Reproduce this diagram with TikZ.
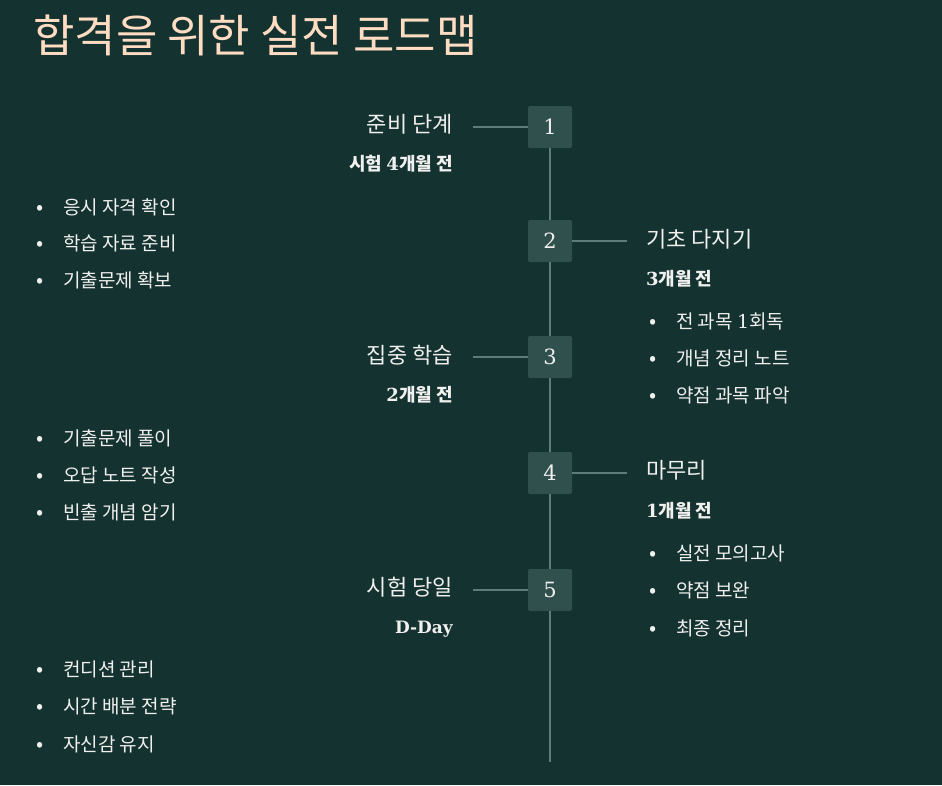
\documentclass[tikz,border=0pt]{standalone}
\usepackage{fontspec}
\setmainfont{DejaVu Serif}
\newfontfamily\kr{Noto Sans CJK KR}
\usetikzlibrary{positioning}
\definecolor{MapBg}{HTML}{143230}
\definecolor{MapBox}{HTML}{2F504D}
\definecolor{MapLine}{HTML}{5E7D7A}
\definecolor{MapPeach}{HTML}{FFDCC2}
\definecolor{MapText}{HTML}{F0F0EE}
\newcommand{\dg}[1]{{\rmfamily #1}}
\newcommand{\bul}[1]{\makebox[26pt]{\fontsize{21}{21}\selectfont •}\hspace{10pt}#1}

\begin{document}
\begin{tikzpicture}[x=1pt,y=-1pt,
    stepbox/.style={fill=MapBox,rounded corners=2pt,minimum width=44pt,minimum height=42pt,inner sep=0,text=MapText,font=\fontsize{21}{21}\selectfont},
    conn/.style={MapLine,line width=1.6pt},
    ttl/.style={inner sep=0,text=MapText,font=\kr\fontsize{22}{22}\selectfont},
    sub/.style={inner sep=0,text=MapText,font=\kr\bfseries\fontsize{18}{18}\selectfont},
    item/.style={inner sep=0,anchor=base west,text=MapText,font=\kr\fontsize{19}{19}\selectfont}
  ]
  \useasboundingbox[fill=MapBg] (0,0) rectangle (942,785);
  \node[inner sep=0,anchor=base west,text=MapPeach,font=\kr\fontsize{45}{45}\selectfont] (title) at (33,52) {합격을 위한 실전 로드맵};

  % timeline boxes
  \node[stepbox] (b1) at (550,127) {1};
  \node[stepbox] (b2) at (550,241) {2};
  \node[stepbox] (b3) at (550,357) {3};
  \node[stepbox] (b4) at (550,473) {4};
  \node[stepbox] (b5) at (550,590) {5};
  \coordinate (lineend) at (550,762);
  \draw[conn] (b1.south) -- (b2.north) (b2.south) -- (b3.north) (b3.south) -- (b4.north)
    (b4.south) -- (b5.north) (b5.south) -- (lineend);

  % step 1
  \node[ttl,anchor=base east] (t1) at (453,132) {준비 단계};
  \node[sub,anchor=base east] (s1) at (453,170) {시험 \dg{4}개월 전};
  \draw[conn] (b1.west) -- ++(-55,0);
  \node[item] (i11) at (27,214) {\bul{응시 자격 확인}};
  \node[item] (i12) at (27,250) {\bul{학습 자료 준비}};
  \node[item] (i13) at (27,287) {\bul{기출문제 확보}};

  % step 2
  \node[ttl,anchor=base west] (t2) at (646,247) {기초 다지기};
  \node[sub,anchor=base west] (s2) at (646,285) {\dg{3}개월 전};
  \draw[conn] (b2.east) -- ++(55,0);
  \node[item] (i21) at (640,328) {\bul{전 과목 \dg{1}회독}};
  \node[item] (i22) at (640,365) {\bul{개념 정리 노트}};
  \node[item] (i23) at (640,402) {\bul{약점 과목 파악}};

  % step 3
  \node[ttl,anchor=base east] (t3) at (453,363) {집중 학습};
  \node[sub,anchor=base east] (s3) at (453,401) {\dg{2}개월 전};
  \draw[conn] (b3.west) -- ++(-55,0);
  \node[item] (i31) at (27,445) {\bul{기출문제 풀이}};
  \node[item] (i32) at (27,482) {\bul{오답 노트 작성}};
  \node[item] (i33) at (27,519) {\bul{빈출 개념 암기}};

  % step 4
  \node[ttl,anchor=base west] (t4) at (646,478) {마무리};
  \node[sub,anchor=base west] (s4) at (646,517) {\dg{1}개월 전};
  \draw[conn] (b4.east) -- ++(55,0);
  \node[item] (i41) at (640,560) {\bul{실전 모의고사}};
  \node[item] (i42) at (640,597) {\bul{약점 보완}};
  \node[item] (i43) at (640,635) {\bul{최종 정리}};

  % step 5
  \node[ttl,anchor=base east] (t5) at (453,595) {시험 당일};
  \node[sub,anchor=base east,font=\bfseries\fontsize{17}{17}\selectfont] (s5) at (453,633) {D-Day};
  \draw[conn] (b5.west) -- ++(-55,0);
  \node[item] (i51) at (27,676) {\bul{컨디션 관리}};
  \node[item] (i52) at (27,713) {\bul{시간 배분 전략}};
  \node[item] (i53) at (27,751) {\bul{자신감 유지}};
\end{tikzpicture}
\end{document}
